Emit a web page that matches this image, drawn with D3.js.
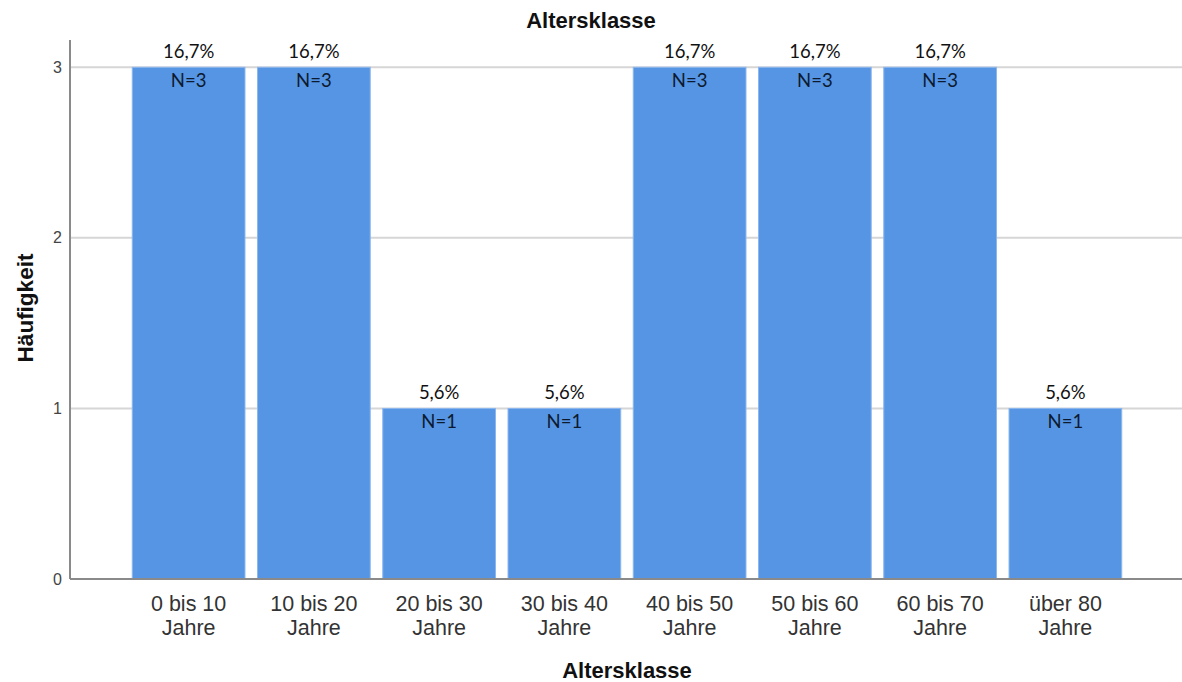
<!DOCTYPE html>
<html>
<head>
<meta charset="utf-8">
<script src="https://cdn.jsdelivr.net/npm/d3@7"></script>
<style>
  html, body { margin: 0; padding: 0; background: #fff; }
  svg { display: block; }
</style>
</head>
<body>
<svg id="chart" width="1182" height="682"></svg>
<script>
// Altersklassen (age groups) and their frequencies
const categories = [
  ["0 bis 10", "Jahre"],
  ["10 bis 20", "Jahre"],
  ["20 bis 30", "Jahre"],
  ["30 bis 40", "Jahre"],
  ["40 bis 50", "Jahre"],
  ["50 bis 60", "Jahre"],
  ["60 bis 70", "Jahre"],
  ["über 80", "Jahre"]
];
const counts = [3, 3, 1, 1, 3, 3, 3, 1];
const yTicks = [0, 1, 2, 3];

const svg = d3.select("#chart");
const W = 1182, H = 682;

const keys = categories.map(c => c.join(" "));
const total = d3.sum(counts);
const fmtPct = v => (v * 100).toFixed(1).replace(".", ",") + "%";

const x = d3.scaleBand()
  .domain(keys)
  .range([126, 1128])
  .paddingInner(0.1)
  .paddingOuter(0.05);

const y = d3.scaleLinear()
  .domain([0, 3.16])
  .range([579, 40]);

const axisFont = "'Liberation Sans', Arial, sans-serif";
const labelFont = "Lato, 'Open Sans', sans-serif";

// horizontal gridlines
svg.append("g")
  .selectAll("line")
  .data(yTicks.filter(t => t > 0))
  .join("line")
  .attr("x1", 70).attr("x2", W)
  .attr("y1", d => y(d)).attr("y2", d => y(d))
  .attr("stroke", "#d6d6d6")
  .attr("stroke-width", 2);

// bars
svg.append("g")
  .selectAll("rect")
  .data(counts)
  .join("rect")
  .attr("x", (d, i) => x(keys[i]))
  .attr("y", d => y(d))
  .attr("width", x.bandwidth())
  .attr("height", d => y(0) - y(d))
  .attr("fill", "#5595e4")
  .attr("stroke", "#8cb7ee")
  .attr("stroke-width", 1);

// percentage above each bar
svg.append("g")
  .selectAll("text")
  .data(counts)
  .join("text")
  .attr("x", (d, i) => x(keys[i]) + x.bandwidth() / 2)
  .attr("y", d => y(d) - 9)
  .attr("text-anchor", "middle")
  .attr("font-family", labelFont)
  .attr("font-size", 18.5)
  .attr("fill", "#111")
  .text(d => fmtPct(d / total));

// count inside each bar
svg.append("g")
  .selectAll("text")
  .data(counts)
  .join("text")
  .attr("x", (d, i) => x(keys[i]) + x.bandwidth() / 2)
  .attr("y", d => y(d) + 20)
  .attr("text-anchor", "middle")
  .attr("font-family", labelFont)
  .attr("font-size", 18.5)
  .attr("fill", "#0d1a2e")
  .text(d => "N=" + d);

// y axis
const yAxis = svg.append("g")
  .attr("transform", "translate(70,0)")
  .call(d3.axisLeft(y).tickValues(yTicks).tickSize(0).tickPadding(8).tickFormat(d3.format("d")));
yAxis.select(".domain").remove();
yAxis.selectAll("text")
  .attr("font-family", axisFont)
  .attr("font-size", 16)
  .attr("fill", "#444");
svg.append("line")
  .attr("x1", 70).attr("x2", 70)
  .attr("y1", 40).attr("y2", y(0))
  .attr("stroke", "#8a8a8a")
  .attr("stroke-width", 2);

// x axis
const xAxis = svg.append("g")
  .attr("transform", `translate(0,${y(0)})`)
  .call(d3.axisBottom(x).tickSize(0).tickFormat(""));
xAxis.select(".domain").remove();
svg.append("line")
  .attr("x1", 70).attr("x2", W)
  .attr("y1", y(0)).attr("y2", y(0))
  .attr("stroke", "#8a8a8a")
  .attr("stroke-width", 2);

xAxis.selectAll(".tick")
  .each(function (d, i) {
    const t = d3.select(this).append("text")
      .attr("text-anchor", "middle")
      .attr("font-family", axisFont)
      .attr("font-size", 21.5)
      .attr("fill", "#333");
    categories[i].forEach((line, j) => {
      t.append("tspan")
        .attr("x", 0)
        .attr("y", 32 + j * 23.5)
        .text(line);
    });
  });

// titles
svg.append("text")
  .attr("x", W / 2)
  .attr("y", 28)
  .attr("text-anchor", "middle")
  .attr("font-family", axisFont)
  .attr("font-weight", "bold")
  .attr("font-size", 22)
  .attr("fill", "#111")
  .text("Altersklasse");

svg.append("text")
  .attr("x", 627)
  .attr("y", 678)
  .attr("text-anchor", "middle")
  .attr("font-family", axisFont)
  .attr("font-weight", "bold")
  .attr("font-size", 22)
  .attr("fill", "#111")
  .text("Altersklasse");

svg.append("text")
  .attr("transform", "translate(33,308) rotate(-90)")
  .attr("text-anchor", "middle")
  .attr("font-family", axisFont)
  .attr("font-weight", "bold")
  .attr("font-size", 22.5)
  .attr("fill", "#111")
  .text("Häufigkeit");
</script>
</body>
</html>
